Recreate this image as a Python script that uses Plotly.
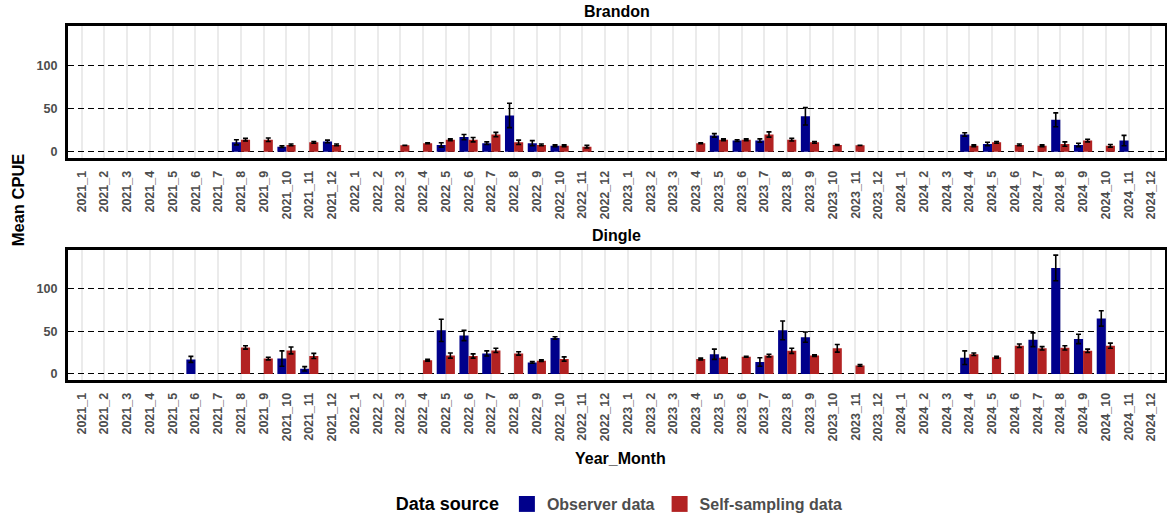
import plotly.graph_objects as go

# Year_Month categories, Jan 2021 - Dec 2024
categories = [f"{y}_{m}" for y in (2021, 2022, 2023, 2024) for m in range(1, 13)]

# Mean CPUE and standard error by site and data source (missing months omitted)
brandon_observer = {"2021_8": 11, "2021_10": 6, "2021_12": 12,
                    "2022_5": 8, "2022_6": 17, "2022_7": 10, "2022_8": 42, "2022_9": 10, "2022_10": 7,
                    "2023_5": 19, "2023_6": 13, "2023_7": 13, "2023_9": 41,
                    "2024_4": 20, "2024_5": 9, "2024_8": 37, "2024_9": 8, "2024_11": 13}
brandon_observer_se = {"2021_8": 3, "2021_10": 1, "2021_12": 1.5,
                       "2022_5": 2.5, "2022_6": 3, "2022_7": 1.5, "2022_8": 14, "2022_9": 3, "2022_10": 1,
                       "2023_5": 2, "2023_6": 1, "2023_7": 2, "2023_9": 10,
                       "2024_4": 2, "2024_5": 2, "2024_8": 8, "2024_9": 2, "2024_11": 6}

brandon_self = {"2021_8": 14, "2021_9": 14, "2021_10": 8, "2021_11": 11, "2021_12": 8,
                "2022_3": 7.5, "2022_4": 10, "2022_5": 14, "2022_6": 14, "2022_7": 20, "2022_8": 11,
                "2022_9": 8, "2022_10": 7, "2022_11": 6,
                "2023_4": 10, "2023_5": 14, "2023_6": 14, "2023_7": 20, "2023_8": 14, "2023_9": 11,
                "2023_10": 8, "2023_11": 7.5,
                "2024_4": 7, "2024_5": 11, "2024_6": 8, "2024_7": 7, "2024_8": 9, "2024_9": 13, "2024_10": 7}
brandon_self_se = {"2021_8": 1.5, "2021_9": 2, "2021_10": 1, "2021_11": 1, "2021_12": 1,
                   "2022_3": 0, "2022_4": 0.5, "2022_5": 1, "2022_6": 2.5, "2022_7": 2.5, "2022_8": 2.5,
                   "2022_9": 1, "2022_10": 1, "2022_11": 1.5,
                   "2023_4": 0.5, "2023_5": 1, "2023_6": 1, "2023_7": 3, "2023_8": 1.5, "2023_9": 1,
                   "2023_10": 0.5, "2023_11": 0,
                   "2024_4": 1, "2024_5": 1, "2024_6": 1, "2024_7": 1, "2024_8": 2.5, "2024_9": 1.5, "2024_10": 1.5}

dingle_observer = {"2021_6": 17, "2021_10": 18, "2021_11": 6,
                   "2022_5": 51, "2022_6": 45, "2022_7": 24, "2022_9": 13.5, "2022_10": 42,
                   "2023_5": 23, "2023_7": 14, "2023_8": 51, "2023_9": 43,
                   "2024_4": 19, "2024_7": 40, "2024_8": 124, "2024_9": 41, "2024_10": 65}
dingle_observer_se = {"2021_6": 3.5, "2021_10": 9, "2021_11": 2.5,
                      "2022_5": 13, "2022_6": 6, "2022_7": 3, "2022_9": 1, "2022_10": 1.5,
                      "2023_5": 6, "2023_7": 5, "2023_8": 11, "2023_9": 6,
                      "2024_4": 8, "2024_7": 8, "2024_8": 15, "2024_9": 5.5, "2024_10": 9}

dingle_self = {"2021_8": 31, "2021_9": 18, "2021_10": 27.5, "2021_11": 21,
               "2022_4": 16, "2022_5": 21.5, "2022_6": 21, "2022_7": 27.5, "2022_8": 24, "2022_9": 15.5,
               "2022_10": 17.5,
               "2023_4": 17.5, "2023_5": 19, "2023_6": 20, "2023_7": 21.5, "2023_8": 27, "2023_9": 21.5,
               "2023_10": 30, "2023_11": 10,
               "2024_4": 23, "2024_5": 19.5, "2024_6": 33, "2024_7": 30, "2024_8": 30.5, "2024_9": 27,
               "2024_10": 33}
dingle_self_se = {"2021_8": 2, "2021_9": 1.5, "2021_10": 4, "2021_11": 3,
                  "2022_4": 1, "2022_5": 3, "2022_6": 2.5, "2022_7": 2.5, "2022_8": 2, "2022_9": 1,
                  "2022_10": 2.5,
                  "2023_4": 1, "2023_5": 0.5, "2023_6": 0.5, "2023_7": 1.5, "2023_8": 3, "2023_9": 1,
                  "2023_10": 4.5, "2023_11": 1,
                  "2024_4": 1.5, "2024_5": 1, "2024_6": 2, "2024_7": 2, "2024_8": 2.5, "2024_9": 2,
                  "2024_10": 3}

OBS_COLOR = "#00008B"
SELF_COLOR = "#B22222"
TEXT_GRAY = "#4D4D4D"
FONT = "Liberation Sans, Arial, sans-serif"


def full(series):
    return [series.get(c) for c in categories]


fig = go.Figure()

panels = [
    ("x", "y", brandon_observer, brandon_observer_se, brandon_self, brandon_self_se),
    ("x2", "y2", dingle_observer, dingle_observer_se, dingle_self, dingle_self_se),
]
for xa, ya, obs, obs_se, slf, slf_se in panels:
    for name, vals, errs, color in (("Observer data", obs, obs_se, OBS_COLOR),
                                    ("Self-sampling data", slf, slf_se, SELF_COLOR)):
        fig.add_trace(go.Bar(
            x=categories, y=full(vals), name=name, xaxis=xa, yaxis=ya,
            marker=dict(color=color, line=dict(width=0)),
            error_y=dict(type="data", array=full(errs), color="black", thickness=1.6, width=2.5),
            showlegend=False, offsetgroup=name,
        ))

# legend entries with larger square keys
for name, color in (("Observer data", OBS_COLOR), ("Self-sampling data", SELF_COLOR)):
    fig.add_trace(go.Scatter(x=[None], y=[None], mode="markers", name=name,
                             marker=dict(symbol="square", size=16, color=color),
                             xaxis="x2", yaxis="y2", showlegend=True))

W, H = 1167, 521
x_dom = [68 / W, 1165 / W]
x_mid = (x_dom[0] + x_dom[1]) / 2
xaxis_common = dict(
    type="category", categoryorder="array", categoryarray=categories,
    range=[-0.6, len(categories) - 0.4], domain=x_dom,
    showgrid=True, gridcolor="#EBEBEB", gridwidth=1.5,
    showline=True, linecolor="black", linewidth=3, mirror=True,
    tickangle=-90, tickfont=dict(family=FONT, size=12.5, color=TEXT_GRAY, weight="bold"),
    ticks="outside", ticklen=5, tickcolor="rgba(0,0,0,0)",
    zeroline=False, fixedrange=True,
)
yaxis_common = dict(
    range=[-6.9, 145.5], tickvals=[0, 50, 100],
    showgrid=True, gridcolor="black", gridwidth=1.2, griddash="6px,4px",
    showline=True, linecolor="black", linewidth=3, mirror=True,
    tickfont=dict(family=FONT, size=12.6, color=TEXT_GRAY, weight="bold"),
    ticks="outside", ticklen=5, tickcolor="rgba(0,0,0,0)",
    zeroline=False, fixedrange=True,
)


def label(text, x, y, size, angle=0):
    return dict(text=f"<b>{text}</b>", x=x, y=y, xref="paper", yref="paper",
                xanchor="center", yanchor="middle", showarrow=False, textangle=angle,
                font=dict(family=FONT, size=size, color="black"))


fig.update_layout(
    width=W, height=H,
    margin=dict(l=0, r=0, t=0, b=0),
    paper_bgcolor="white", plot_bgcolor="white",
    barmode="group", bargap=0.2, bargroupgap=0,
    font=dict(family=FONT),
    xaxis=dict(xaxis_common, anchor="y"),
    yaxis=dict(yaxis_common, anchor="x", domain=[1 - 160 / H, 1 - 26 / H]),
    xaxis2=dict(xaxis_common, anchor="y2"),
    yaxis2=dict(yaxis_common, anchor="x2", domain=[1 - 385 / H, 1 - 253 / H]),
    legend=dict(
        orientation="h", x=0.532, xanchor="center", y=1 - 511 / H, yanchor="middle",
        title=dict(text="<b>Data source</b>", font=dict(family=FONT, size=18, color="black")),
        font=dict(family=FONT, size=16, color=TEXT_GRAY, weight="bold"),
        itemsizing="trace", bgcolor="rgba(0,0,0,0)",
    ),
    annotations=[
        label("Brandon", x_mid, 1 - 12 / H, 16),
        label("Dingle", x_mid, 1 - 239 / H, 16),
        label("Mean CPUE", 18 / W, 1 - 203 / H, 16.5, -90),
        label("Year_Month", 620 / W, 1 - 465 / H, 16),
    ],
)

fig.write_html("out.html")
